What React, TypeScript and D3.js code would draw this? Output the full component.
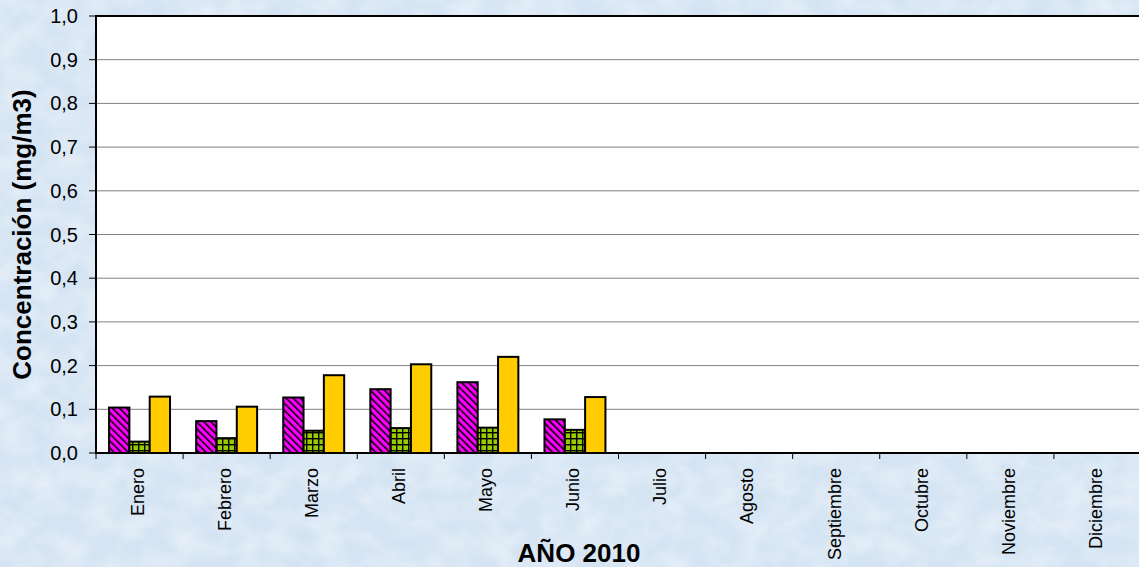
import React from "react";
import * as d3 from "d3";

const months = ["Enero","Febrero","Marzo","Abril","Mayo","Junio","Julio","Agosto","Septiembre","Octubre","Noviembre","Diciembre"];
const seriesNames = ["s1","s2","s3"];
const serie1 = [0.104,0.073,0.127,0.146,0.162,0.077,null,null,null,null,null,null];
const serie2 = [0.026,0.034,0.051,0.057,0.058,0.053,null,null,null,null,null,null];
const serie3 = [0.129,0.106,0.178,0.203,0.220,0.128,null,null,null,null,null,null];
const yTicks = [0,0.1,0.2,0.3,0.4,0.5,0.6,0.7,0.8,0.9,1.0];

const W = 1139, H = 567;
const M = { left: 96, top: 16, right: 1141, bottom: 453 };

export default function App() {
  const x0 = d3.scaleBand<string>().domain(months).range([M.left, M.right]).padding(0);
  const bw = x0.bandwidth();
  const inset = bw * 0.15;
  const x1 = d3.scaleBand<string>().domain(seriesNames).range([inset, bw - inset]).padding(0);
  const y = d3.scaleLinear().domain([0, 1]).range([M.bottom, M.top]);
  const data = [serie1, serie2, serie3];
  const fills = ["url(#pMag)", "url(#pGreen)", "#FFCC00"];
  const fmt = (v: number) => v.toFixed(1).replace(".", ",");

  return (
    <svg width={W} height={H} style={{ position: "fixed", left: 0, top: 0 }} fontFamily="'Liberation Sans', Arial, sans-serif">
      <defs>
        <filter id="marble" x="0" y="0" width="100%" height="100%">
          <feTurbulence type="fractalNoise" baseFrequency="0.035 0.045" numOctaves={4} seed={7} />
          <feColorMatrix type="matrix" values="0 0 0 0 1  0 0 0 0 1  0 0 0 0 1  1.2 0 0 0 -0.4" />
        </filter>
        <pattern id="pMag" width="5" height="5" patternUnits="userSpaceOnUse" patternTransform="rotate(-45)">
          <rect width="5" height="5" fill="#FF00FF" />
          <rect x="0" y="0" width="1.6" height="5" fill="#000" />
        </pattern>
        <pattern id="pGreen" width="6" height="6" patternUnits="userSpaceOnUse">
          <rect width="6" height="6" fill="#99CC00" />
          <rect x="0" y="0" width="6" height="1.4" fill="#000" />
          <rect x="0" y="0" width="1.4" height="6" fill="#000" />
        </pattern>
      </defs>
      <rect width={W} height={H} fill="#d5e4f3" />
      <rect width={W} height={H} fill="#fff" filter="url(#marble)" opacity={0.6} />
      <rect x={M.left} y={M.top} width={M.right - M.left} height={M.bottom - M.top} fill="#fff" />
      {yTicks.slice(1, -1).map(t => (
        <line key={t} x1={M.left} x2={M.right} y1={y(t)} y2={y(t)} stroke="#808080" strokeWidth={1} />
      ))}
      {months.map((m, i) => (
        <g key={m}>
          {data.map((s, k) => {
            const v = s[i];
            if (v == null) return null;
            const bx = (x0(m) as number) + (x1(seriesNames[k]) as number);
            return (
              <rect key={k} x={bx} y={y(v)} width={x1.bandwidth()} height={y(0) - y(v)}
                fill={fills[k]} stroke="#000" strokeWidth={2} />
            );
          })}
        </g>
      ))}
      <line x1={M.left} x2={M.right} y1={M.top} y2={M.top} stroke="#000" strokeWidth={2} />
      <line x1={M.left} x2={M.left} y1={M.top - 1} y2={M.bottom + 1} stroke="#000" strokeWidth={2} />
      <line x1={M.left - 1} x2={M.right} y1={M.bottom} y2={M.bottom} stroke="#000" strokeWidth={2} />
      {yTicks.map(t => (
        <g key={t}>
          <line x1={M.left - 7} x2={M.left} y1={y(t)} y2={y(t)} stroke="#000" strokeWidth={1} />
          <text x={78} y={y(t)} dy="0.35em" textAnchor="end" fontSize={20} fill="#000">{fmt(t)}</text>
        </g>
      ))}
      {d3.range(months.length + 1).map(i => {
        const xx = M.left + i * bw;
        return <line key={i} x1={xx} x2={xx} y1={M.bottom} y2={M.bottom + 6} stroke="#000" strokeWidth={1} />;
      })}
      {months.map(m => {
        const cx = (x0(m) as number) + bw / 2 - 2;
        return (
          <text key={m} transform={`translate(${cx},${468}) rotate(-90)`} textAnchor="end" dy="0.35em" fontSize={18} fill="#000">{m}</text>
        );
      })}
      <text transform={`translate(31,${(M.top + M.bottom) / 2}) rotate(-90)`} textAnchor="middle" fontSize={26} fontWeight="bold" fill="#000">Concentración (mg/m3)</text>
      <text x={579} y={562} textAnchor="middle" fontSize={26} fontWeight="bold" fill="#000">AÑO 2010</text>
    </svg>
  );
}
